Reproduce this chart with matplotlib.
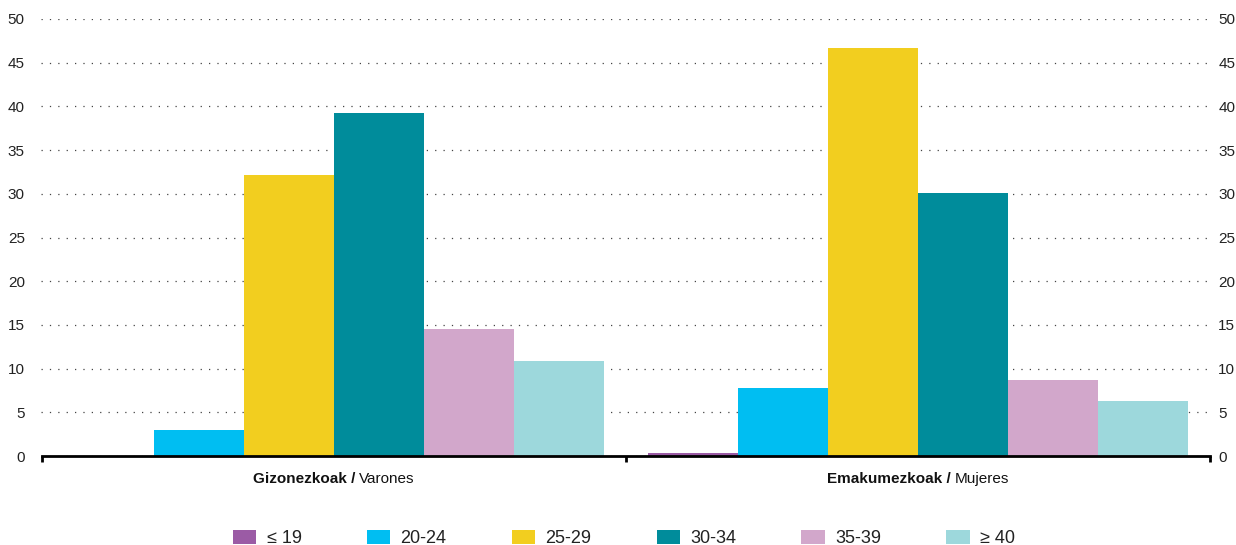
import matplotlib
matplotlib.use("Agg")
import matplotlib.pyplot as plt
import numpy as np
from matplotlib.patches import Patch

categories_bold = ["Gizonezkoak /", "Emakumezkoak /"]
categories_norm = ["Varones", "Mujeres"]
series = ["≤ 19", "20-24", "25-29", "30-34", "35-39", "≥ 40"]
values = {
    "≤ 19": [0.0, 0.3],
    "20-24": [3.0, 7.8],
    "25-29": [32.2, 46.7],
    "30-34": [39.2, 30.1],
    "35-39": [14.5, 8.7],
    "≥ 40": [10.9, 6.3],
}
colors = ["#9B5BA5", "#00BEF2", "#F2CE1F", "#008C9B", "#D2A7CB", "#9DD8DC"]
yticks = [0, 5, 10, 15, 20, 25, 30, 35, 40, 45, 50]

plt.rcParams['font.family'] = ['Liberation Sans', 'DejaVu Sans']

fig = plt.figure(figsize=(12.36, 5.45), dpi=100)
ax = fig.add_axes([41.5/1236, 1-456/545, (1210-41.5)/1236, (456-19)/545])

x = np.arange(len(categories_bold))
w = 90/584
for i, s in enumerate(series):
    ax.bar(x + (i-2.5)*w, values[s], width=w, color=colors[i], zorder=2, linewidth=0)

ax.set_xlim(-0.5, 1.5)
ax.set_ylim(0, 50)
ax.set_yticks(yticks)
ax.yaxis.grid(True, linestyle=(0, (1, 5.7)), color='#444444', linewidth=0.9, zorder=0)
ax.set_axisbelow(True)
for sp in ['top', 'left', 'right']:
    ax.spines[sp].set_visible(False)
ax.spines['bottom'].set_linewidth(2)
ax.spines['bottom'].set_color('black')
ax.tick_params(axis='y', length=0, labelsize=11, pad=12, colors='#222222')
ax.set_xticks([-0.5, 0.5, 1.5])
ax.set_xticklabels([])
ax.tick_params(axis='x', length=4, width=2, direction='out', color='black')

ax2 = ax.twinx()
ax2.set_ylim(0, 50)
ax2.set_yticks(yticks)
for sp in ['top', 'left', 'right', 'bottom']:
    ax2.spines[sp].set_visible(False)
ax2.tick_params(axis='y', length=0, labelsize=11, pad=6, colors='#222222')

fig.canvas.draw()
renderer = fig.canvas.get_renderer()
for i in range(len(categories_bold)):
    tb = ax.text(x[i], -2.6, categories_bold[i] + " ", fontweight='bold', fontsize=11,
                 ha='left', va='center', color='#111111')
    tn = ax.text(x[i], -2.6, categories_norm[i], fontsize=11, ha='left', va='center', color='#111111')
    fig.canvas.draw()
    bb = tb.get_window_extent(renderer)
    bn = tn.get_window_extent(renderer)
    total = bb.width + bn.width
    cx = ax.transData.transform((x[i], 0))[0]
    start = cx - total/2
    inv = ax.transData.inverted()
    tb.set_x(inv.transform((start, 0))[0])
    tn.set_x(inv.transform((start + bb.width, 0))[0])

handles = [Patch(facecolor=colors[i], edgecolor='none', label=series[i]) for i in range(len(series))]
fig.legend(handles=handles, loc='center', bbox_to_anchor=(0.5 + 6/1236, 1-538.5/545), ncol=6, frameon=False,
           fontsize=13, handlelength=1.28, handleheight=0.85, columnspacing=3.6, handletextpad=0.6,
           labelcolor='#222222')

fig.savefig("out.png", dpi=100, facecolor='white')
